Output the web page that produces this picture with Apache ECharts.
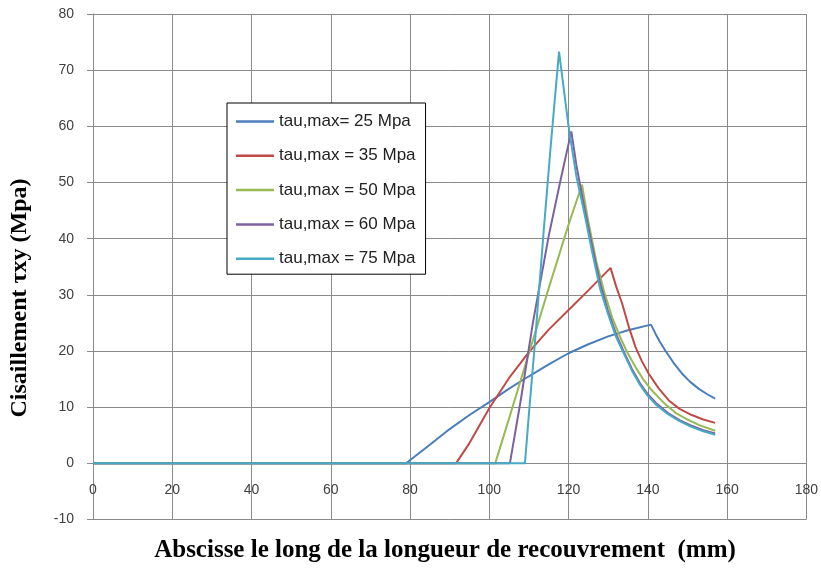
<!DOCTYPE html>
<html>
<head>
<meta charset="utf-8">
<script src="https://cdn.jsdelivr.net/npm/echarts@6/dist/echarts.min.js"></script>
<style>html,body{margin:0;padding:0;background:#fff;}#c{width:821px;height:569px;}</style>
</head>
<body>
<div id="c"></div>
<script>
const seriesNames = ['tau,max= 25 Mpa','tau,max = 35 Mpa','tau,max = 50 Mpa','tau,max = 60 Mpa','tau,max = 75 Mpa'];
const colors = ['#4A7EBB','#BE4B48','#98B954','#7D60A0','#46AAC5'];
const xTicks = [0,20,40,60,80,100,120,140,160,180];
const yTicks = [-10,0,10,20,30,40,50,60,70,80];

const s25 = [[0,0],[79,0],[85,3.3],[90,6.1],[95,8.6],[100,10.9],[105,13.3],[110,15.5],[115,17.6],[120,19.6],[125,21.2],[130,22.6],[135,23.7],[140.8,24.7],[142,23.0],[143,21.7],[144.4,20.1],[146.5,17.9],[148.6,16.0],[150.7,14.5],[152.8,13.3],[155,12.3],[157,11.5]];
const s35 = [[0,0],[91.6,0],[95,3.6],[100,9.8],[105,15.2],[110,19.8],[115,23.8],[120,27.3],[125,30.8],[130.6,34.8],[132,31.5],[133.5,28.5],[135.2,24.3],[136.9,20.7],[138.5,18.2],[140.2,16.0],[142.7,13.4],[145.3,11.2],[148,9.7],[151.1,8.6],[154,7.8],[157,7.2]];
const s50 = [[0,0],[101.5,0],[105,8.0],[110,19.6],[115,31.2],[120,42.5],[123.4,49.6],[125,43],[127,36],[129,30.5],[131,26],[133,22.5],[135,19.5],[137,17],[139,14.8],[141,13],[144,10.8],[147,9],[150,7.8],[153,6.8],[157,5.8]];
const s60 = [[0,0],[105.2,0],[108,11.5],[111,25],[115,40.5],[118,50.5],[120.7,59.1],[122,53],[124,45.5],[126,38.5],[128,32],[130,27],[132,23],[134,19.8],[136,16.8],[138,14.3],[140,12.3],[142,10.8],[145,9],[148,7.7],[151,6.7],[154,5.9],[157,5.3]];
const s75 = [[0,0],[109,0],[110,8.8],[111.3,19.6],[113.8,42],[115.5,56.5],[117.6,73.3],[120,60],[122,51],[124,44.5],[126,37.5],[128,31],[130,26.5],[132,22.5],[134,19.5],[136,16.5],[138,14],[140,12],[142,10.5],[145,8.8],[148,7.5],[151,6.5],[154,5.7],[157,5.1]];
const allData = [s25,s35,s50,s60,s75];

const chart = echarts.init(document.getElementById('c'), null, {renderer:'canvas'});
const gridColor = '#8a8a8a';
const labelFont = {fontFamily:'Liberation Sans', fontSize:14, color:'#404040'};
const gridTop = 14, gridBottom = 49.5, chartH = 569;
const plotH = chartH - gridTop - gridBottom;
const zeroOffset = plotH * (0 - yTicks[0]) / (yTicks[yTicks.length-1] - yTicks[0]);
chart.setOption({
  animation:false,
  backgroundColor:'#fff',
  grid:{left:93, right:13, top:gridTop, bottom:gridBottom, containLabel:false},
  xAxis:{
    type:'value', min:xTicks[0], max:xTicks[xTicks.length-1], interval:20,
    offset:-zeroOffset,
    axisLine:{show:true, onZero:false, lineStyle:{color:gridColor, width:1}},
    axisTick:{show:false},
    axisLabel:Object.assign({margin:20}, labelFont),
    splitLine:{show:true, lineStyle:{color:gridColor, width:1}}
  },
  yAxis:{
    type:'value', min:yTicks[0], max:yTicks[yTicks.length-1], interval:10,
    axisLine:{show:true, lineStyle:{color:gridColor, width:1}},
    axisTick:{show:true, inside:false, length:6, lineStyle:{color:gridColor}},
    axisLabel:Object.assign({margin:19}, labelFont),
    splitLine:{show:true, lineStyle:{color:gridColor, width:1}}
  },
  legend:{
    orient:'vertical', left:227, top:103, icon:'rect',
    backgroundColor:'#fff', borderColor:'#000', borderWidth:1, borderRadius:0,
    padding:[10,10,7,9], itemGap:17.3, itemWidth:38, itemHeight:2.5,
    textStyle:{fontFamily:'Liberation Sans', fontSize:17, color:'#222', lineHeight:16},
    data:seriesNames
  },
  graphic:[
    {type:'text', x:445, y:551, style:{text:'Abscisse le long de la longueur de recouvrement  (mm)', font:'bold 25px "Liberation Serif"', fill:'#000', textAlign:'center', textVerticalAlign:'middle'}},
    {type:'text', x:20, y:298, rotation:Math.PI/2, style:{text:'Cisaillement \u03C4xy (Mpa)', font:'bold 24px "Liberation Serif"', fill:'#000', textAlign:'center', textVerticalAlign:'middle'}}
  ],
  series: allData.map((d,i)=>({
    name:seriesNames[i], type:'line', data:d, symbol:'none', smooth:false,
    lineStyle:{color:colors[i], width:2}, itemStyle:{color:colors[i]}, z:2+i
  }))
});
</script>
</body>
</html>
